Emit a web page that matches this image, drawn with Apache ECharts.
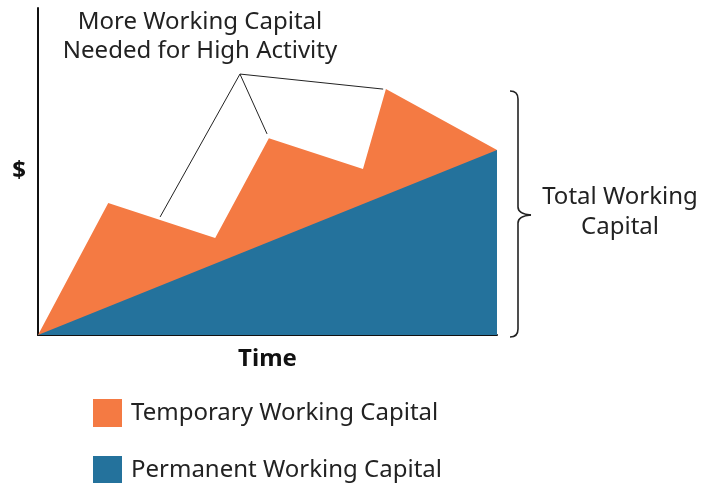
<!DOCTYPE html>
<html>
<head>
<meta charset="utf-8">
<script src="https://cdn.jsdelivr.net/npm/echarts@6/dist/echarts.min.js"></script>
<style>
  html, body { margin: 0; padding: 0; background: #fff; }
  #chart { width: 701px; height: 483px; }
</style>
</head>
<body>
<div id="chart"></div>
<script>
// time runs 0..100, money 0..100 (schematic units)
const seriesNames = ['Temporary Working Capital', 'Permanent Working Capital']
const totalPoints = [[0, 0], [15.3, 40.4], [38.6, 29.7], [50.3, 60.2], [70.8, 50.8], [75.8, 75.2], [100, 56.6]]
const permanentPoints = [[0, 0], [100, 56.6]]
// callout lines from the label to the three peaks
const calloutA = [[26.6, 36.1], [44, 79.8], [49.9, 61.5]]
const calloutB = [[44, 79.8], [75.2, 75.2]]

const orange = '#f47a43'
const blue = '#24729c'
const font = 'Noto Sans'

const chart = echarts.init(document.getElementById('chart'))

const braceStyle = { fill: 'none', stroke: '#222', lineWidth: 1.6 }

// one legend block per row, stacked
function legendRow(name, top) {
  return {
    left: 93,
    top: top,
    padding: 0,
    itemWidth: 29,
    itemHeight: 28,
    icon: 'rect',
    data: [name],
    selectedMode: false,
    textStyle: { fontFamily: font, fontSize: 24, color: '#222', padding: [0, 0, 0, 4] }
  }
}

const option = {
  animation: false,
  textStyle: { fontFamily: font },
  grid: { left: 38, right: 204, top: 8, bottom: 148 },
  xAxis: {
    type: 'value',
    min: 0,
    max: 100,
    name: 'Time',
    nameLocation: 'middle',
    nameGap: 12,
    nameTextStyle: { fontFamily: font, fontWeight: 'bold', fontSize: 24, color: '#111', verticalAlign: 'top' },
    axisLine: { show: true, lineStyle: { color: '#111', width: 2 } },
    axisTick: { show: false },
    axisLabel: { show: false },
    splitLine: { show: false }
  },
  yAxis: {
    type: 'value',
    min: 0,
    max: 100,
    name: '$',
    nameLocation: 'middle',
    nameRotate: 0,
    nameGap: 12,
    nameTextStyle: { fontFamily: font, fontWeight: 'bold', fontSize: 24, color: '#111' },
    axisLine: { show: true, lineStyle: { color: '#111', width: 2 } },
    axisTick: { show: false },
    axisLabel: { show: false },
    splitLine: { show: false }
  },
  legend: [legendRow(seriesNames[0], 399), legendRow(seriesNames[1], 456)],
  series: [
    {
      name: seriesNames[0],
      type: 'line',
      data: totalPoints,
      symbol: 'none',
      color: orange,
      lineStyle: { width: 0 },
      areaStyle: { color: orange, opacity: 1 },
      z: 2
    },
    {
      name: seriesNames[1],
      type: 'line',
      data: permanentPoints,
      symbol: 'none',
      color: blue,
      lineStyle: { width: 0 },
      areaStyle: { color: blue, opacity: 1 },
      z: 3
    },
    {
      name: 'calloutA',
      type: 'line',
      data: calloutA,
      symbol: 'none',
      lineStyle: { color: '#222', width: 1 },
      z: 4
    },
    {
      name: 'calloutB',
      type: 'line',
      data: calloutB,
      symbol: 'none',
      lineStyle: { color: '#222', width: 1 },
      z: 4
    }
  ],
  graphic: [
    {
      type: 'text',
      x: 200,
      y: 8,
      style: {
        text: 'More Working Capital\nNeeded for High Activity',
        align: 'center',
        fontFamily: font,
        fontSize: 24,
        lineHeight: 29,
        fill: '#222'
      }
    },
    // brace around the total
    { type: 'bezierCurve', shape: { x1: 510, y1: 91, cpx1: 518, cpy1: 91, x2: 518, y2: 99 }, style: braceStyle },
    { type: 'line', shape: { x1: 518, y1: 99, x2: 518, y2: 207 }, style: braceStyle },
    { type: 'bezierCurve', shape: { x1: 518, y1: 207, cpx1: 518, cpy1: 214, x2: 531, y2: 215 }, style: braceStyle },
    { type: 'bezierCurve', shape: { x1: 531, y1: 215, cpx1: 518, cpy1: 216, x2: 518, y2: 223 }, style: braceStyle },
    { type: 'line', shape: { x1: 518, y1: 223, x2: 518, y2: 329 }, style: braceStyle },
    { type: 'bezierCurve', shape: { x1: 518, y1: 329, cpx1: 518, cpy1: 337, x2: 510, y2: 337 }, style: braceStyle },
    {
      type: 'text',
      x: 620,
      y: 182,
      style: {
        text: 'Total Working\nCapital',
        align: 'center',
        fontFamily: font,
        fontSize: 24,
        lineHeight: 30,
        fill: '#222'
      }
    }
  ]
}

chart.setOption(option)
</script>
</body>
</html>
